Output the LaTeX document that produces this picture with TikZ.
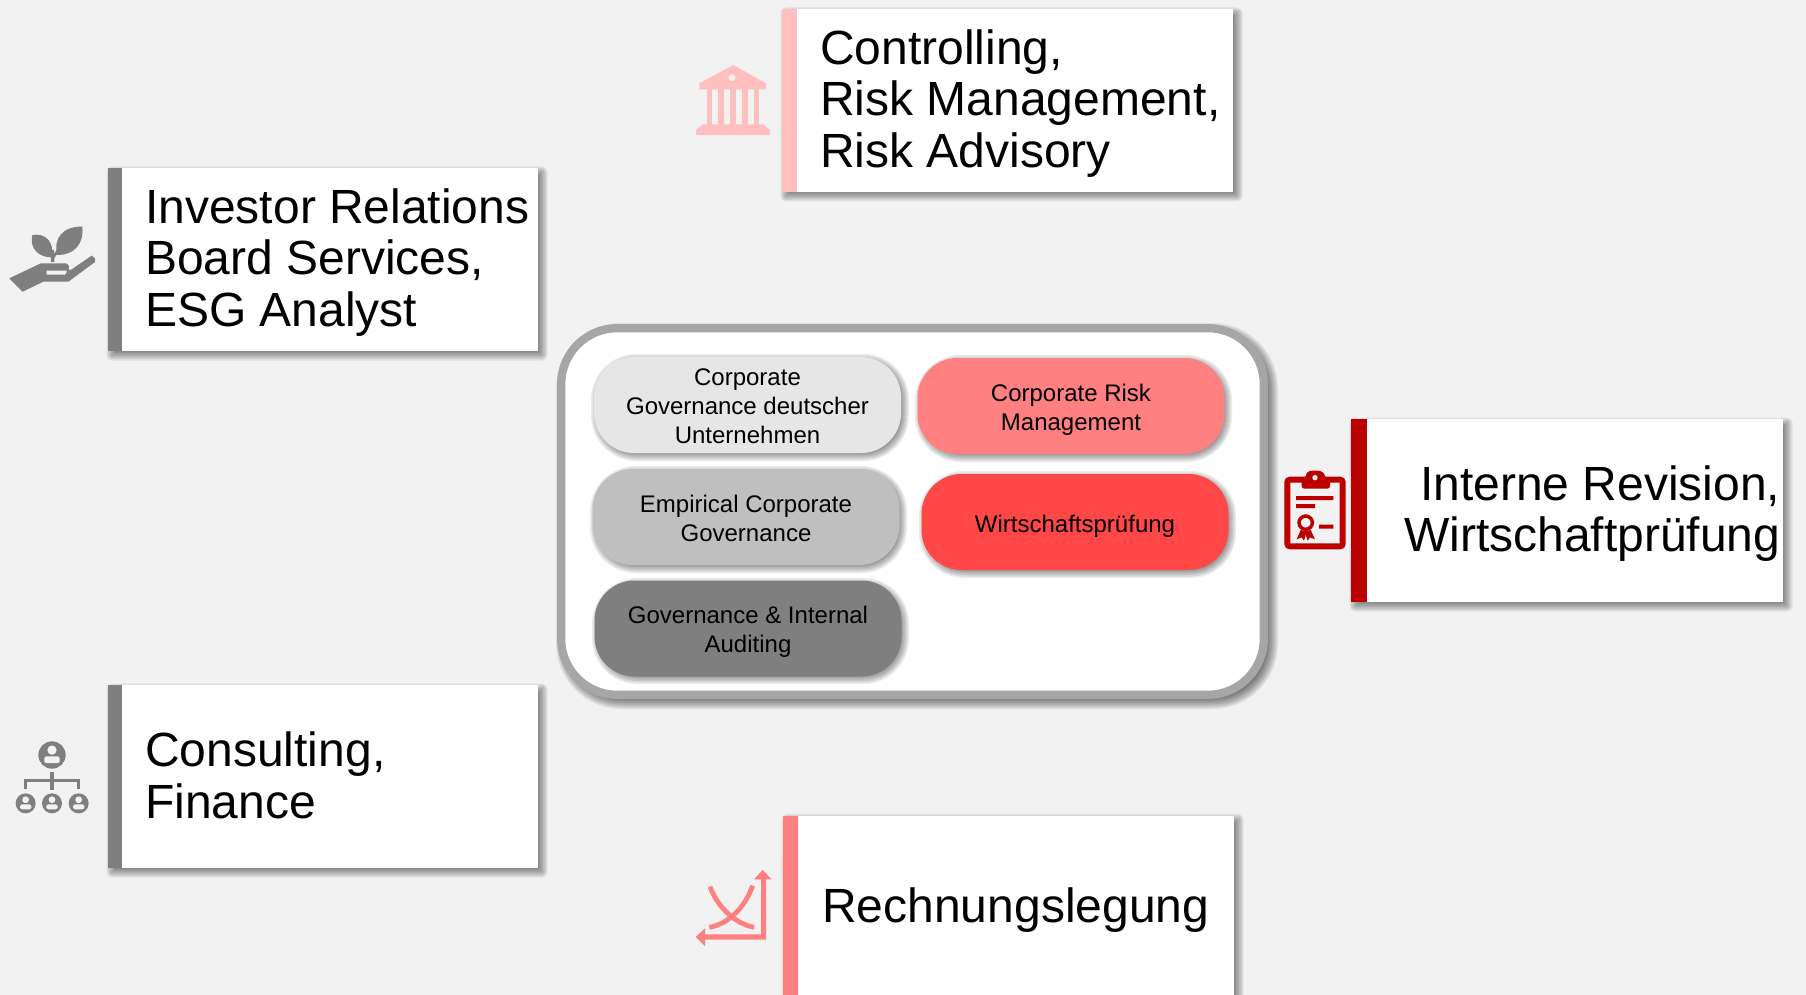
\documentclass[tikz,border=0pt]{standalone}
\usepackage{fontspec}
\setmainfont{Liberation Sans}
\definecolor{bgc}{HTML}{F2F2F2}
\definecolor{pinkA}{HTML}{FFBFBF}
\definecolor{pinkB}{HTML}{FF8080}
\definecolor{redA}{HTML}{FF4747}
\definecolor{redB}{HTML}{BC0000}
\definecolor{greyA}{HTML}{E6E6E6}
\definecolor{greyB}{HTML}{BFBFBF}
\definecolor{greyC}{HTML}{7F7F7F}
\definecolor{greyD}{HTML}{A6A6A6}
% soft shadow: nested translucent rounded boxes, args [offset] x1 y1 x2 y2 radius (pixels)
\newcommand{\softshade}[6][4.5]{%
  \foreach \d in {-5,-3.5,-2,-0.5,1,2.5,4,5.5}{%
    \pgfmathsetmacro{\rr}{max(#6+\d,0.5)*0.75}%
    \fill[black,fill opacity=.08,rounded corners=\rr pt]
      ({#2+#1-\d},{#3+#1-\d}) rectangle ({#4+#1+\d},{#5+#1+\d});
  }%
}
\tikzset{
  card/.style={rectangle,fill=white,draw=none,inner sep=0pt,outer sep=0pt},
  stripe/.style={rectangle,draw=none,inner sep=0pt,outer sep=0pt},
  big/.style={font=\fontsize{36}{38.7}\selectfont,inner sep=0pt,text=black},
  pill/.style={rectangle,rounded corners=30pt,draw=none,inner sep=0pt,outer sep=0pt,
     minimum width=230.25pt,minimum height=72pt},
  pilltext/.style={inner sep=0pt,align=center,text=black,font=\fontsize{18}{21.8}\selectfont},
  zoomed/.style={x=.25pt,y=-.25pt},
}
\begin{document}
\begin{tikzpicture}[x=.75pt,y=-.75pt]
\useasboundingbox (0,0) rectangle (1806,995);
\clip (0,0) rectangle (1806,995);
\fill[bgc] (0,0) rectangle (1806,995);

% frame
\softshade{557}{324}{1268}{699}{60}
\node[rectangle,draw=greyD,line width=6.2pt,fill=white,rounded corners=42pt,inner sep=0pt,outer sep=0pt,
  minimum width=527pt,minimum height=275pt] (frame) at (912.5,511.5) {};

% pills
\softshade[2.5]{594}{357}{901}{453}{40}
\node[pill,fill=greyA] (p1) at (747.5,405) {};
\node[pilltext] (l1) at (747.5,406.5) {Corporate\\Governance deutscher\\Unternehmen};
\softshade[2.5]{593}{469}{899}{565}{40}
\node[pill,fill=greyB] (p2) at (746,517) {};
\node[pilltext] (l2) at (746,518) {Empirical Corporate\\Governance};
\softshade[2.5]{595}{581}{901}{676}{40}
\node[pill,fill=greyC] (p3) at (748,628.5) {};
\node[pilltext] (l3) at (748,632) {Governance \& Internal\\Auditing};
\softshade[2.5]{918}{358}{1224}{454}{40}
\node[pill,fill=pinkB] (p4) at (1071,406) {};
\node[pilltext] (l4) at (1071,409.5) {Corporate Risk\\Management};
\softshade[2.5]{922}{474}{1228}{570}{40}
\node[pill,fill=redA] (p5) at (1075,522) {};
\node[pilltext] (l5) at (1075,526.5) {Wirtschaftsprüfung};

% cards
\softshade[4]{782}{9}{1233}{192}{0}
\node[card,minimum width=338.25pt,minimum height=137.5pt,anchor=north west] (c1) at (782,9) {};
\node[stripe,fill=pinkA,minimum width=11pt,minimum height=137.5pt,anchor=north west] (b1) at (782,9) {};
\node[big,anchor=west,align=left] (t1) at (820,103.5) {Controlling,\\Risk Management,\\Risk Advisory};

\softshade[4]{108}{168}{538}{351}{0}
\node[card,minimum width=322.5pt,minimum height=137.5pt,anchor=north west] (c2) at (108,168) {};
\node[stripe,fill=greyC,minimum width=10.5pt,minimum height=137.5pt,anchor=north west] (b2) at (108,168) {};
\node[big,anchor=west,align=left] (t2) at (145,262.5) {Investor Relations\\Board Services,\\ESG Analyst};

\softshade[4]{108}{685}{538}{868}{0}
\node[card,minimum width=322.5pt,minimum height=137.5pt,anchor=north west] (c3) at (108,685) {};
\node[stripe,fill=greyC,minimum width=10.5pt,minimum height=137.5pt,anchor=north west] (b3) at (108,685) {};
\node[big,anchor=west,align=left] (t3) at (145,775.5) {Consulting,\\Finance};

\softshade[4]{783}{815.5}{1234}{1040}{0}
\node[card,minimum width=338.25pt,minimum height=160pt,anchor=north west] (c4) at (783,815.5) {};
\node[stripe,fill=pinkB,minimum width=11pt,minimum height=160pt,anchor=north west] (b4) at (783,815.5) {};
\node[big,anchor=west,align=left] (t4) at (822,910) {Rechnungslegung};

\softshade[4]{1351}{419}{1783}{602}{0}
\node[card,minimum width=324pt,minimum height=137.5pt,anchor=north west] (c5) at (1351,419) {};
\node[stripe,fill=redB,minimum width=12pt,minimum height=137.5pt,anchor=north west] (b5) at (1351,419) {};
\node[big,anchor=east,align=right] (t5) at (1780.5,513.5) {Interne Revision,\\Wirtschaftprüfung};

% bank icon
\begin{scope}[shift={(680,0)},zoomed]
\fill[pinkA,even odd rule] (160,195) -- (258,250) -- (258,268) -- (58,268) -- (58,250) -- cycle (156,233) circle (11);
\foreach \a/\b in {80/96,115/132,150/167,186/203,221/238} \fill[pinkA] (\a,268) rectangle (\b,375);
\fill[pinkA] (68,373) -- (250,373) -- (270,390) -- (270,405) -- (48,405) -- (48,390) -- cycle;
\end{scope}

% hand with plant
\begin{scope}[shift={(0,200)},zoomed]
\fill[greyC] (28,235) -- (122,190) -- (198,190) .. controls (206,190) and (208,198) .. (206,208) -- (212,210) -- (275,167) -- (285,175) -- (285,186) -- (205,245) -- (130,245) -- (68,275) -- cycle;
\fill[bgc] (140,212) -- (200,212) -- (200,216) -- (195,224) -- (140,224) -- cycle;
\fill[greyC] (97,105) .. controls (135,98) and (165,125) .. (155,172) .. controls (115,172) and (88,145) .. (97,105) -- cycle;
\fill[greyC] (247,80) .. controls (252,130) and (225,165) .. (172,165) .. controls (158,115) and (190,78) .. (247,80) -- cycle;
\draw[greyC,line width=2.5pt] (157,150) -- (158,186);
\draw[greyC,line width=2pt] (158,175) -- (178,145);
\end{scope}

% organisation chart
\begin{scope}[shift={(0,720)},zoomed]
\def\person#1#2#3{%
  \fill[greyC] (#1,#2) circle (#3);
  \fill[bgc] (#1,#2-0.36*#3) circle (0.34*#3);
  \fill[bgc,rounded corners=1.2pt] (#1-0.56*#3,#2+0.6*#3) -- (#1-0.56*#3,#2+0.1*#3) -- (#1+0.56*#3,#2+0.1*#3) -- (#1+0.56*#3,#2+0.6*#3) -- cycle;
}
\person{156}{105}{41}
\person{77}{250}{30}
\person{156}{250}{30}
\person{236}{250}{30}
\draw[greyC,line width=2.5pt] (156,155) -- (156,210) (76,208) -- (76,181) -- (236,181) -- (236,208);
\end{scope}

% chart icon
\begin{scope}[shift={(680,840)},zoomed]
\draw[pinkB,line width=3.6pt] (90,140) .. controls (110,195) and (160,250) .. (222,262);
\draw[pinkB,line width=3.6pt] (218,137) .. controls (195,200) and (150,250) .. (88,262);
\fill[pinkB] (243,118) -- (222,118) -- (248,90) -- (275,118) -- (258,118) -- (258,299) -- (75,299) -- (75,318) -- (47,291) -- (75,265) -- (75,283) -- (243,283) -- cycle;
\end{scope}

% clipboard icon
\begin{scope}[shift={(1270,450)},zoomed]
\draw[redB,line width=4.5pt,rounded corners=2pt] (52,89) rectangle (218,289);
\fill[redB,rounded corners=2pt] (95,116) -- (95,85) -- (107,85) -- (107,72) -- (118,62) -- (152,62) -- (165,72) -- (165,85) -- (180,85) -- (180,116) -- cycle;
\fill[bgc] (135,83) circle (8);
\fill[redB] (78,138) rectangle (190,150) (78,162) rectangle (135,174) (147,224) rectangle (190,236);
\draw[redB,line width=2.6pt] (107,218) circle (20);
\fill[redB] (92,240) -- (80,268) -- (95,262) -- (102,272) -- (110,245) -- cycle;
\fill[redB] (122,240) -- (135,268) -- (120,262) -- (113,272) -- (104,245) -- cycle;
\end{scope}
\end{tikzpicture}
\end{document}
